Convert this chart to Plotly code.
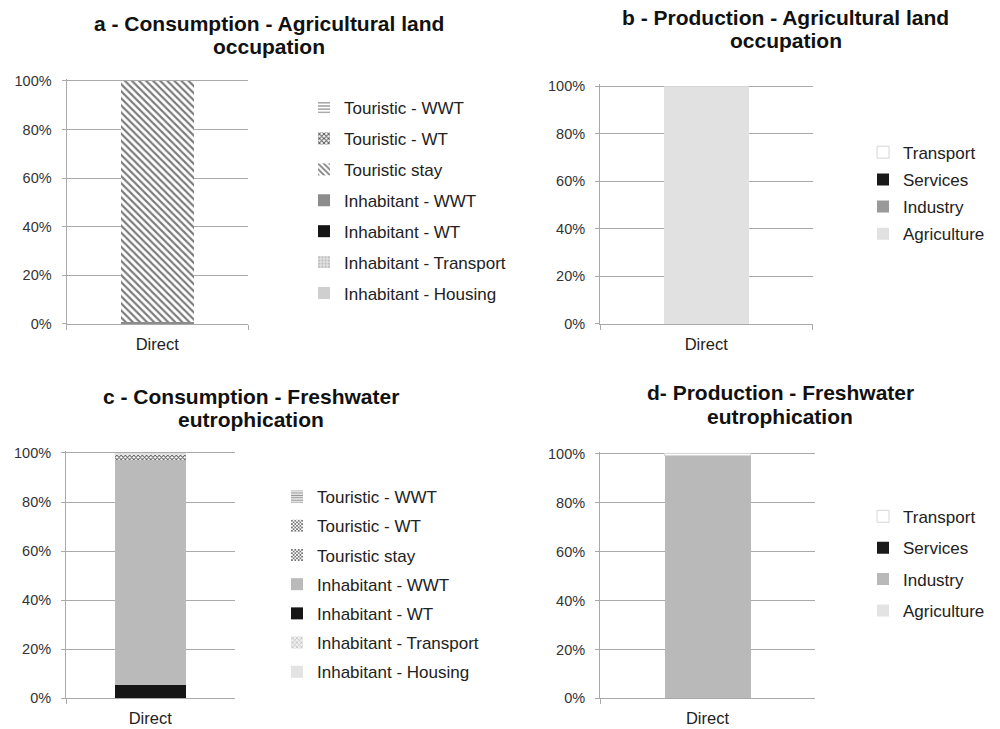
import plotly.graph_objects as go

# ---- data (shares of the total impact, %) ----
categories = ["Direct"]

cons_series = ["Inhabitant - Housing", "Inhabitant - Transport", "Inhabitant - WT",
               "Inhabitant - WWT", "Touristic stay", "Touristic - WT", "Touristic - WWT"]
cons_land = [0.0, 0.0, 0.3, 0.4, 99.3, 0.0, 0.0]
cons_eutro = [0.2, 0.0, 5.2, 91.7, 1.4, 0.5, 1.0]

prod_series = ["Agriculture", "Industry", "Services", "Transport"]
prod_land = [100.0, 0.0, 0.0, 0.0]
prod_eutro = [0.0, 99.3, 0.0, 0.7]

y_ticks = [0, 20, 40, 60, 80, 100]
y_tick_labels = ["0%", "20%", "40%", "60%", "80%", "100%"]

FONT = "Liberation Sans, Arial, Helvetica, sans-serif"
GRID = "#a9a9a9"

# ---- styles ----
def solid(color, line=None):
    m = dict(color=color, line=dict(width=0))
    if line:
        m["line"] = dict(width=1, color=line)
    return m

def patterned(shape, fg, bg, size, solidity):
    return dict(color=bg, line=dict(width=0),
                pattern=dict(shape=shape, fgcolor=fg, bgcolor=bg, size=size,
                             solidity=solidity, fillmode="replace"))

cons_land_style = [
    solid("#cfcfcf"),
    patterned(".", "#bdbdbd", "#e2e2e2", 4, 0.4),
    solid("#151515"),
    solid("#8c8c8c"),
    patterned("\\", "#7a7a7a", "#ffffff", 5, 0.42),
    patterned("x", "#555555", "#ffffff", 4, 0.5),
    patterned("-", "#a0a0a0", "#ffffff", 4, 0.45),
]
cons_eutro_style = [
    solid("#e3e3e3"),
    patterned("x", "#c8c8c8", "#eeeeee", 4, 0.45),
    solid("#151515"),
    solid("#bababa"),
    patterned("x", "#5a5a5a", "#ffffff", 3, 0.5),
    patterned("x", "#5a5a5a", "#ffffff", 3, 0.5),
    patterned("-", "#8a8a8a", "#ffffff", 3, 0.5),
]
prod_land_style = [solid("#e1e1e1"), solid("#999999"), solid("#1a1a1a"),
                   solid("#ffffff", line="#d6d6d6")]
prod_eutro_style = [solid("#e3e3e3"), solid("#b9b9b9"), solid("#1a1a1a"),
                    solid("#ffffff", line="#d6d6d6")]

# ---- panel layout (paper coordinates) ----
panels = [
    dict(key="1", names=cons_series, vals=cons_land, styles=cons_land_style,
         xdom=[0.0665, 0.248], ydom=[0.5556, 0.8916], width=0.40,
         legend=dict(x=0.304, y=0.8765, gap=5.8),
         title=["a - Consumption - Agricultural land", "occupation"],
         tx=0.269, ty=[24, 47]),
    dict(key="2", names=prod_series, vals=prod_land, styles=prod_land_style,
         xdom=[0.600, 0.8125], ydom=[0.5556, 0.8846], width=0.40,
         legend=dict(x=0.863, y=0.8153, gap=2.1),
         title=["b - Production - Agricultural land", "occupation"],
         tx=0.7855, ty=[17, 40]),
    dict(key="3", names=cons_series, vals=cons_eutro, styles=cons_eutro_style,
         xdom=[0.066, 0.2345], ydom=[0.0421, 0.3813], width=0.42,
         legend=dict(x=0.277, y=0.3429, gap=4.1),
         title=["c - Consumption - Freshwater", "eutrophication"],
         tx=0.251, ty=[396, 419]),
    dict(key="4", names=prod_series, vals=prod_eutro, styles=prod_eutro_style,
         xdom=[0.600, 0.815], ydom=[0.0421, 0.3800], width=0.40,
         legend=dict(x=0.863, y=0.3159, gap=6.3),
         title=["d- Production - Freshwater", "eutrophication"],
         tx=0.780, ty=[392, 416]),
]

fig = go.Figure()
layout = dict(
    width=1000, height=729,
    margin=dict(l=0, r=0, t=0, b=0),
    paper_bgcolor="white", plot_bgcolor="white",
    barmode="stack", showlegend=True,
    font=dict(family=FONT, color="#222222"),
    annotations=[],
)

H = 729.0
for p in panels:
    k = p["key"]
    xa = "x" if k == "1" else "x" + k
    ya = "y" if k == "1" else "y" + k
    lg = "legend" if k == "1" else "legend" + k
    n = len(p["names"])
    for i, (name, v, st) in enumerate(zip(p["names"], p["vals"], p["styles"])):
        fig.add_trace(go.Bar(
            x=categories, y=[v], name=name, marker=st, width=p["width"],
            xaxis=xa, yaxis=ya, legend=lg, legendgroup=k + name,
            legendrank=n - i,  # top series listed first
            hovertemplate="%{y:.1f}%<extra>" + name + "</extra>",
        ))
    axis_sfx = "" if k == "1" else k
    layout["xaxis" + axis_sfx] = dict(
        domain=p["xdom"], anchor=ya, type="category", range=[-0.5, 0.5],
        showline=True, linecolor=GRID, linewidth=1,
        ticks="outside", tickson="boundaries", ticklen=5, tickcolor=GRID,
        ticklabelstandoff=5,
        tickfont=dict(size=16.5, color="#222222", family=FONT),
        showgrid=False, zeroline=False, fixedrange=True, automargin=False,
    )
    layout["yaxis" + axis_sfx] = dict(
        domain=p["ydom"], anchor=xa, range=[0, 100.8],
        tickmode="array", tickvals=y_ticks, ticktext=y_tick_labels,
        showgrid=True, gridcolor=GRID, gridwidth=1,
        showline=True, linecolor=GRID, linewidth=1,
        ticks="outside", ticklen=4, tickcolor=GRID, ticklabelstandoff=7,
        tickfont=dict(size=14.5, color="#333333", family=FONT),
        zeroline=False, fixedrange=True, automargin=False,
    )
    layout[lg] = dict(
        x=p["legend"]["x"], y=p["legend"]["y"], xanchor="left", yanchor="top",
        traceorder="grouped", tracegroupgap=p["legend"]["gap"],
        font=dict(size=17, color="#222222", family=FONT),
        bgcolor="rgba(0,0,0,0)", itemclick=False, itemdoubleclick=False,
    )
    for line, ypx in zip(p["title"], p["ty"]):
        layout["annotations"].append(dict(
            text=line, xref="paper", yref="paper", x=p["tx"], y=1 - ypx / H,
            xanchor="center", yanchor="middle", showarrow=False,
            font=dict(size=21, color="#111111", family=FONT, weight="bold"),
        ))

fig.update_layout(**layout)
fig.write_html("out.html")
